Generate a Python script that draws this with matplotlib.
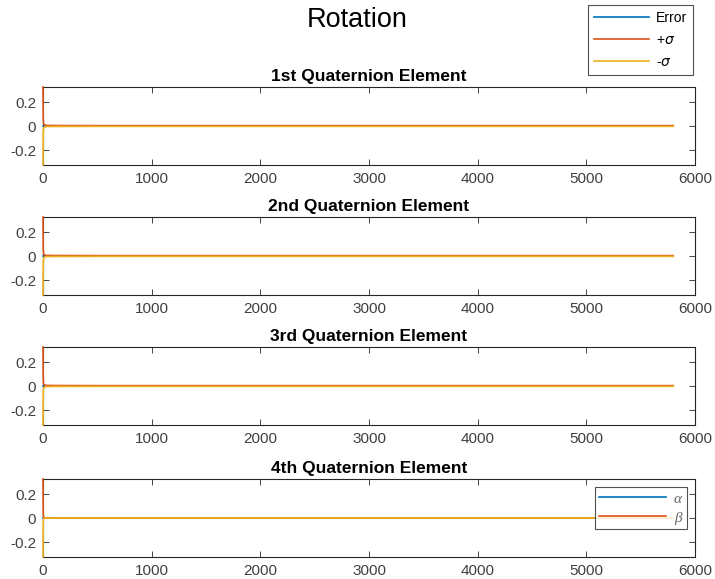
import numpy as np
import matplotlib.pyplot as plt

plt.rcParams['font.family'] = ['Liberation Sans', 'DejaVu Sans']
plt.rcParams['mathtext.fontset'] = 'dejavusans'

# time samples and estimated standard deviations for each quaternion element
t = np.array([0, 2, 5, 10, 30, 100, 500, 1000, 3000, 5800])
sigma_q1 = np.array([0.325, 0.06, 0.02, 0.01, 0.005, 0.004, 0.003, 0.003, 0.003, 0.003])
sigma_q2 = np.array([0.325, 0.06, 0.02, 0.01, 0.005, 0.004, 0.003, 0.003, 0.003, 0.003])
sigma_q3 = np.array([0.325, 0.06, 0.02, 0.01, 0.005, 0.004, 0.003, 0.003, 0.003, 0.003])
sigma_q4 = np.array([0.325, 0.04, 0.008, 0.001, 0.0002, 0.0, 0.0, 0.0, 0.0, 0.0])
error_q = np.array([0, 0, 0, 0, 0, 0, 0, 0, 0, 0], dtype=float)

titles = ['1st Quaternion Element', '2nd Quaternion Element',
          '3rd Quaternion Element', '4th Quaternion Element']
sigmas = [sigma_q1, sigma_q2, sigma_q3, sigma_q4]

c_err = '#0072BD'
c_plus = '#D95319'
c_minus = '#EDB120'
axis_col = '#262626'
tick_col = '#404040'

fig = plt.figure(figsize=(7.15, 5.79), dpi=100)
left, width, height = 43 / 715, 652 / 715, 78 / 579
bottoms = [1 - 165 / 579, 1 - 295 / 579, 1 - 425 / 579, 1 - 557 / 579]

handles = None
for i, (title, sig) in enumerate(zip(titles, sigmas)):
    ax = fig.add_axes([left, bottoms[i], width, height])
    h1, = ax.plot(t, error_q, color=c_err, lw=1.2, zorder=3, clip_on=False)
    h2, = ax.plot(t, sig, color=c_plus, lw=1.2, zorder=3, clip_on=False)
    h3, = ax.plot(t, -sig, color=c_minus, lw=1.2, zorder=3, clip_on=False)
    handles = (h1, h2, h3)
    ax.set_xlim(0, 6000)
    ax.set_ylim(-0.325, 0.325)
    ax.set_xticks([0, 1000, 2000, 3000, 4000, 5000, 6000])
    ax.set_yticks([-0.2, 0, 0.2])
    ax.set_yticklabels(['-0.2', '0', '0.2'])
    ax.tick_params(direction='in', top=True, right=True, length=4,
                   labelsize=11, colors=axis_col, labelcolor=tick_col,
                   width=0.6, pad=5)
    for s in ax.spines.values():
        s.set_color(axis_col)
        s.set_linewidth(0.8)
    ax.set_title(title, fontsize=12.5, fontweight='bold', pad=4, color='black')
    if i == 3:
        leg = ax.legend([h1, h2], ['α', 'β'], loc='upper right',
                        prop={'family': 'Liberation Serif', 'style': 'italic',
                              'size': 11},
                        frameon=True, fancybox=False,
                        edgecolor=axis_col, handlelength=4.4, labelspacing=0.35,
                        borderaxespad=0.55, borderpad=0.3, handletextpad=0.5,
                        labelcolor='#666666')
        leg.get_frame().set_linewidth(0.8)

fig.text(0.5, 1 - 20 / 579, 'Rotation', ha='center', va='center', fontsize=19.5)
leg = fig.legend(handles, ['Error', r'+$\sigma$', r'-$\sigma$'],
                 loc='upper right', bbox_to_anchor=(693 / 715, 1 - 5 / 579),
                 fontsize=10, frameon=True, fancybox=False, edgecolor=axis_col,
                 handlelength=3.9, borderaxespad=0.0, labelspacing=0.55,
                 handletextpad=0.5, borderpad=0.45)
leg.get_frame().set_linewidth(0.8)

fig.savefig('out.png', dpi=100)
